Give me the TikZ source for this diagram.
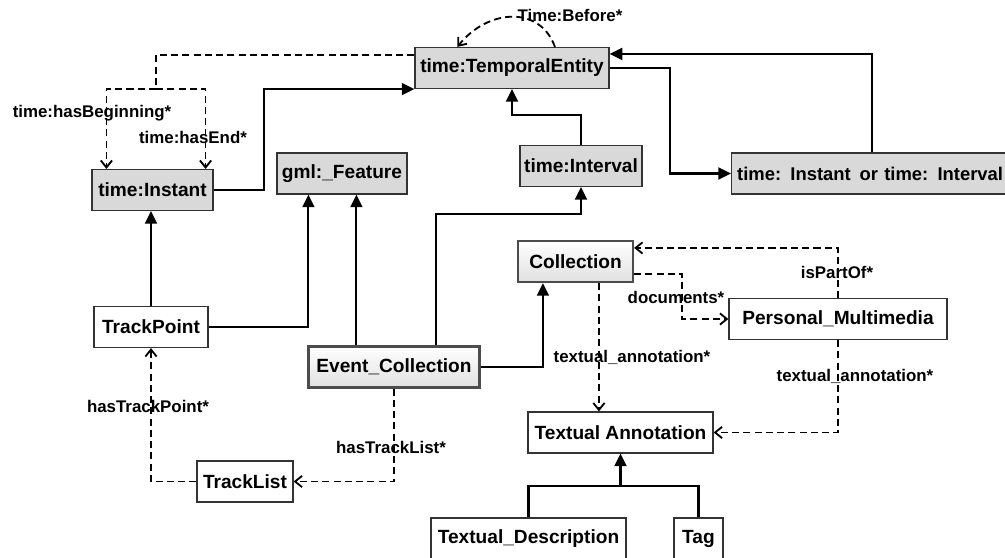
\documentclass[tikz,border=0pt]{standalone}
\usepackage{fontspec}
\setmainfont{Liberation Sans}
\usetikzlibrary{arrows.meta,calc}

\begin{document}
\begin{tikzpicture}[x=0.025cm, y=-0.025cm,
    box/.style={draw=black!80, line width=0.8pt, minimum height=1.025cm, inner xsep=2pt,
      font=\fontsize{13.6}{16}\selectfont\bfseries},
    tbox/.style={box, fill=black!15},
    rbox/.style={box, draw=black!70, line width=1.5pt, top color=white, bottom color=black!12},
    lbl/.style={inner sep=1pt, font=\fontsize{12}{14}\selectfont\bfseries},
    sol/.style={line width=1.5pt, -{Triangle[length=9pt,width=8.5pt]}},
    dshline/.style={line width=1.3pt, dash pattern=on 5pt off 3pt},
    dsh/.style={dshline, -{Straight Barb[length=5pt,width=8pt]}}]
  \useasboundingbox (0,0) rectangle (1005,558);
  \clip (0,0) rectangle (1005,558);

  % Time classes
  \node[tbox, minimum width=4.85cm] (te) at (512,68) {time:TemporalEntity};
  \node[tbox, minimum width=3.025cm] (tin) at (152.5,190) {time:Instant};
  \node[tbox, minimum width=3.25cm] (gf) at (342,173.5) {gml:\_Feature};
  \node[tbox, minimum width=3.05cm] (tiv) at (581,166) {time:Interval};
  \node[tbox, anchor=west, text width=10cm, align=left, inner xsep=4pt,
    font=\fontsize{13.1}{16}\selectfont\bfseries] (tio) at (731,173.5) {time: Instant\kern2pt{} or time: Interval};

  % Collections
  \node[rbox, minimum width=2.875cm] (col) at (575.5,261.5) {Collection};
  \node[rbox, minimum width=4.275cm] (ec) at (394,367) {Event\_Collection};
  \node[box, minimum width=5.45cm] (pm) at (838,319) {Personal\_Multimedia};
  \node[box, minimum width=4.625cm] (ta) at (620.5,432.5) {Textual Annotation};
  \node[box, minimum width=4.875cm] (td) at (528.5,538.5) {Textual\_Description};
  \node[box, minimum width=1.225cm] (tag) at (698.5,538.5) {Tag};

  % Tracks
  \node[box, minimum width=2.85cm] (tp) at (151,327) {TrackPoint};
  \node[box, minimum width=2.4cm] (tl) at (245,481.5) {TrackList};

  % Subclass edges
  \draw[sol] (tin.east) -- ++(50,0) |- (te.south west);
  \draw[sol] (tiv.north) -- ++(0,-30) -| (te.south);
  \draw[sol] (te.east) -- ++(60,0) |- (tio.west);
  \draw[sol] ($(tio.north west)+(141,0)$) |- ($(te.north east)+(0,7)$);
  \draw[sol] (tp.north) -- (tp.north |- tin.south);
  \draw[sol] (tp.east) -| ($(gf.south west)+(32,0)$);
  \draw[sol] ($(ec.north west)+(49,0)$) coordinate (ecf) -- (ecf |- gf.south);
  \draw[sol] ($(ec.north west)+(129,0)$) |- ($(tiv.south)+(0,27)$) -- (tiv.south);
  \draw[sol] (ec.east) -| ($(col.south west)+(26,0)$);
  \coordinate (tj) at ($(ta.south)+(0,32)$);
  \draw[line width=1.5pt] (td.north) |- (tj) -| (tag.north);
  \draw[sol] (tj) -- (ta.south);

  % Properties
  \coordinate (br) at (156,89);
  \draw[dshline] ($(te.north west)+(0,8)$) -| (br);
  \draw[dsh] (br) -| ($(tin.north west)+(15,0)$);
  \draw[dsh] (br) -| ($(tin.north east)+(-8,0)$);
  \draw[dsh] ($(te.north west)!0.72!(te.north east)$) .. controls +(-15,-42) and +(30,-38) .. ($(te.north west)!0.22!(te.north east)$);
  \draw[dsh] (ec.south) |- (tl.east);
  \draw[dsh] (tl.west) -| (tp.south);
  \draw[dsh] ($(col.south east)+(0,-9)$) -- ++(48,0) |- (pm.west);
  \draw[dsh] (pm.north) |- ($(col.north east)+(0,8)$);
  \draw[dsh] ($(col.south west)+(82,0)$) coordinate (cta) -- (cta |- ta.north);
  \draw[dsh] (pm.south) |- (ta.east);

  % Labels
  \node[lbl] (l1) at (92,113) {time:hasBeginning*};
  \node[lbl] (l2) at (193,137) {time:hasEnd*};
  \node[lbl] (l3) at (570,15) {Time:Before*};
  \node[lbl] (l4) at (148,406) {hasTrackPoint*};
  \node[lbl] (l5) at (391,447) {hasTrackList*};
  \node[lbl] (l6) at (676,297) {documents*};
  \node[lbl] (l7) at (837,272) {isPartOf*};
  \node[lbl] (l8) at (632,357) {textual\_annotation*};
  \node[lbl] (l9) at (855,376) {textual\_annotation*};
\end{tikzpicture}
\end{document}
